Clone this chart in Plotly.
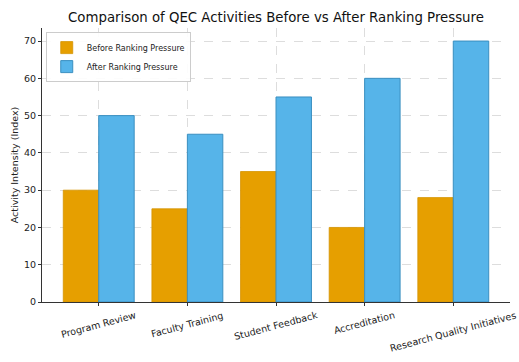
import plotly.graph_objects as go

# Activity intensity index per QEC activity
categories = ["Program Review", "Faculty Training", "Student Feedback",
              "Accreditation", "Research Quality Initiatives"]
before_values = [30, 25, 35, 20, 28]
after_values = [50, 45, 55, 60, 70]
y_ticks = [0, 10, 20, 30, 40, 50, 60, 70]

ORANGE = "#E69F00"
BLUE = "#56B4E9"
FONT = "DejaVu Sans, Verdana, sans-serif"

fig = go.Figure()
fig.add_trace(go.Bar(
    x=categories, y=before_values, name="Before Ranking Pressure",
    marker=dict(color=ORANGE, line=dict(color="#D49300", width=0.8)),
))
fig.add_trace(go.Bar(
    x=categories, y=after_values, name="After Ranking Pressure",
    marker=dict(color=BLUE, line=dict(color="#3A8FC0", width=1)),
))

# Category labels, rotated and centred under each tick
for cat in categories:
    fig.add_annotation(
        x=cat, xref="x", y=0, yref="paper",
        text=cat, showarrow=False, textangle=-15,
        xanchor="center", yanchor="top", yshift=-5,
        font=dict(size=9.5, color="#222222"),
    )

fig.update_layout(
    width=519, height=362,
    margin=dict(l=42, r=9, t=28, b=60),
    paper_bgcolor="white", plot_bgcolor="white",
    barmode="group", bargap=0.2, bargroupgap=0,
    font=dict(family=FONT, color="#222222"),
    title=dict(
        text="Comparison of QEC Activities Before vs After Ranking Pressure",
        x=276 / 519, xanchor="center", y=1 - 17 / 362, yanchor="middle",
        font=dict(size=13.3, color="#111111"),
    ),
    legend=dict(
        x=0.008, y=0.985, xanchor="left", yanchor="top",
        bgcolor="rgba(255,255,255,0.9)", bordercolor="#cccccc", borderwidth=1,
        font=dict(size=8, color="#222222"), tracegroupgap=0, itemwidth=30,
    ),
    showlegend=True,
)

fig.update_xaxes(
    type="category", range=[-0.64, 4.64],
    showline=True, linecolor="#333333", linewidth=1.2,
    ticks="outside", ticklen=3, tickcolor="#333333",
    showticklabels=False,
    showgrid=True, gridcolor="#dddddd", griddash="dash", gridwidth=0.8,
)
fig.update_yaxes(
    range=[0, 73.5], tickvals=y_ticks,
    showline=True, linecolor="#333333", linewidth=1.2,
    ticks="outside", ticklen=3, tickcolor="#333333",
    tickfont=dict(size=9.5),
    showgrid=True, gridcolor="#dddddd", griddash="dash", gridwidth=0.8,
    zeroline=False,
    title=dict(text="Activity Intensity (Index)", font=dict(size=9.5), standoff=3),
)

fig.write_html("out.html")
